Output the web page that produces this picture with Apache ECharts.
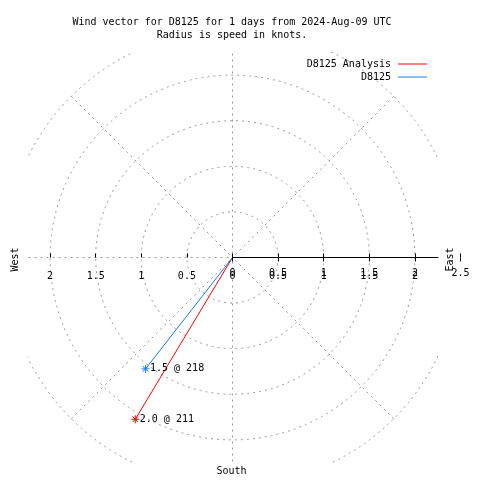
<!DOCTYPE html>
<html><head><meta charset="utf-8">
<script src="https://cdn.jsdelivr.net/npm/echarts@6/dist/echarts.min.js"></script>
<style>html,body{margin:0;padding:0;background:#fff}#c{width:480px;height:480px}</style>
</head><body><div id="c"></div>
<script>
// ---- data ----
const titleLines = ['Wind vector for D8125 for 1 days from 2024-Aug-09 UTC', 'Radius is speed in knots.'];
const seriesNames = ['D8125 Analysis', 'D8125'];
const speeds = [2.07, 1.55];          // knots (radius)
const directions = [211, 218];        // compass degrees
const pointLabels = ['2.0 @ 211', '1.5 @ 218'];
const radiusTicks = [0, 0.5, 1, 1.5, 2, 2.5];
const xTickValues = [-2, -1.5, -1, -0.5, 0, 0.5, 1, 1.5, 2, 2.5];
const xLabelValues = [-2, -1.5, -1, -0.5, 0, 0.5, 1, 1.5, 2];
const compassNames = ['West', 'East', 'South'];

// ---- style ----
const FONT = 'DejaVu Sans Mono';
const CX = 232.5, CY = 257.5, R = 228;
const colors = ['#ff0000', '#1b7be3'];
const GRID = '#999999';
const dashed = {color: GRID, type: [2, 4], width: 1};
const ASTERISK = 'path://M0,4L8,4M4,0L4,8M1.2,1.2L6.8,6.8M6.8,1.2L1.2,6.8';

const chart = echarts.init(document.getElementById('c'), null, {renderer: 'canvas'});

const angleCommon = {type: 'value', min: 90, max: 450, interval: 45, startAngle: 0, clockwise: true};

const option = {
  animation: false,
  backgroundColor: '#fff',
  title: {
    text: titleLines.join('\n'), left: 227, top: 11, textAlign: 'center',
    textStyle: {fontFamily: FONT, fontSize: 10, fontWeight: 'normal', color: '#000', lineHeight: 13}
  },
  legend: {
    data: seriesNames, orient: 'vertical', right: 48, top: 52.5, align: 'right',
    itemWidth: 29, itemHeight: 1, itemGap: 0, icon: 'rect', selectedMode: false,
    itemStyle: {borderWidth: 0},
    textStyle: {fontFamily: FONT, fontSize: 10, color: '#000', lineHeight: 13, padding: [0, 2, 0, 0]}
  },
  grid: {left: CX - R, top: CY - R, width: 2 * R, height: R, show: false, outerBoundsMode: 'none', containLabel: false},
  xAxis: {
    type: 'value', min: -2.5, max: 2.5, z: 3, position: 'bottom',
    axisLine: {show: false, onZero: false},
    axisTick: {show: true, inside: true, length: 4, customValues: xTickValues, lineStyle: {color: '#000', width: 1}},
    axisLabel: {show: true, customValues: xLabelValues, margin: 14, fontFamily: FONT, fontSize: 10, color: '#000',
      formatter: v => String(Math.abs(v))},
    splitLine: {show: false}
  },
  yAxis: {type: 'value', min: 0, max: 2.5, show: false},
  polar: [
    {center: [CX, CY], radius: R},
    {center: [CX, CY], radius: R}
  ],
  angleAxis: [
    Object.assign({polarIndex: 0, z: 0, axisLine: {show: false}, axisTick: {show: false}, axisLabel: {show: false},
      splitLine: {show: true, lineStyle: dashed}}, angleCommon),
    Object.assign({polarIndex: 1, show: false}, angleCommon)
  ],
  radiusAxis: [
    {polarIndex: 0, type: 'value', min: 0, max: 2.5, interval: 0.5, z: 0,
      axisLine: {show: false}, axisTick: {show: false}, axisLabel: {show: false},
      splitLine: {show: true, lineStyle: dashed}},
    {polarIndex: 1, type: 'value', min: radiusTicks[0], max: radiusTicks[radiusTicks.length - 1], interval: 0.5, z: 3,
      axisLine: {show: true, lineStyle: {color: '#000', width: 1, type: [205.5, 80]}},
      axisTick: {show: true, length: -4, lineStyle: {color: '#000', width: 1}},
      axisLabel: {show: true, margin: -21, fontFamily: FONT, fontSize: 10, color: '#000'},
      splitLine: {show: false}}
  ],
  graphic: [
    {type: 'rect', silent: true, z: 1, shape: {x: 0, y: 0, width: 480, height: 52}, style: {fill: '#fff'}},
    {type: 'rect', silent: true, z: 1, shape: {x: 0, y: 463, width: 480, height: 17}, style: {fill: '#fff'}},
    {type: 'rect', silent: true, z: 1, shape: {x: 0, y: 0, width: 27.5, height: 480}, style: {fill: '#fff'}},
    {type: 'rect', silent: true, z: 1, shape: {x: 438, y: 0, width: 42, height: 480}, style: {fill: '#fff'}},
    {type: 'text', z: 10, x: 15, y: 259.5, rotation: Math.PI / 2,
      style: {text: compassNames[0], fontFamily: FONT, fontSize: 10, fill: '#000', align: 'center', verticalAlign: 'middle'}},
    {type: 'text', z: 10, x: 450.5, y: 259.5, rotation: Math.PI / 2,
      style: {text: compassNames[1], fontFamily: FONT, fontSize: 10, fill: '#000', align: 'center', verticalAlign: 'middle'}},
    {type: 'text', z: 10, x: 231.5, y: 471,
      style: {text: compassNames[2], fontFamily: FONT, fontSize: 10, fill: '#000', align: 'center', verticalAlign: 'middle'}}
  ],
  series: seriesNames.map((name, i) => ({
    name, type: 'line', coordinateSystem: 'polar', polarIndex: 1, z: 2,
    data: [
      {value: [0, directions[i]], symbol: 'none'},
      {value: [speeds[i], directions[i]], label: {show: true, formatter: pointLabels[i]}}
    ],
    symbol: ASTERISK, symbolSize: 8, showSymbol: true, silent: true,
    lineStyle: {color: colors[i], width: 1},
    itemStyle: {color: colors[i], borderColor: colors[i], borderWidth: 1},
    label: {show: false, position: 'right', distance: 0, color: '#000', fontFamily: FONT, fontSize: 10},
    emphasis: {disabled: true}
  }))
};
chart.setOption(option);
</script>
</body></html>
